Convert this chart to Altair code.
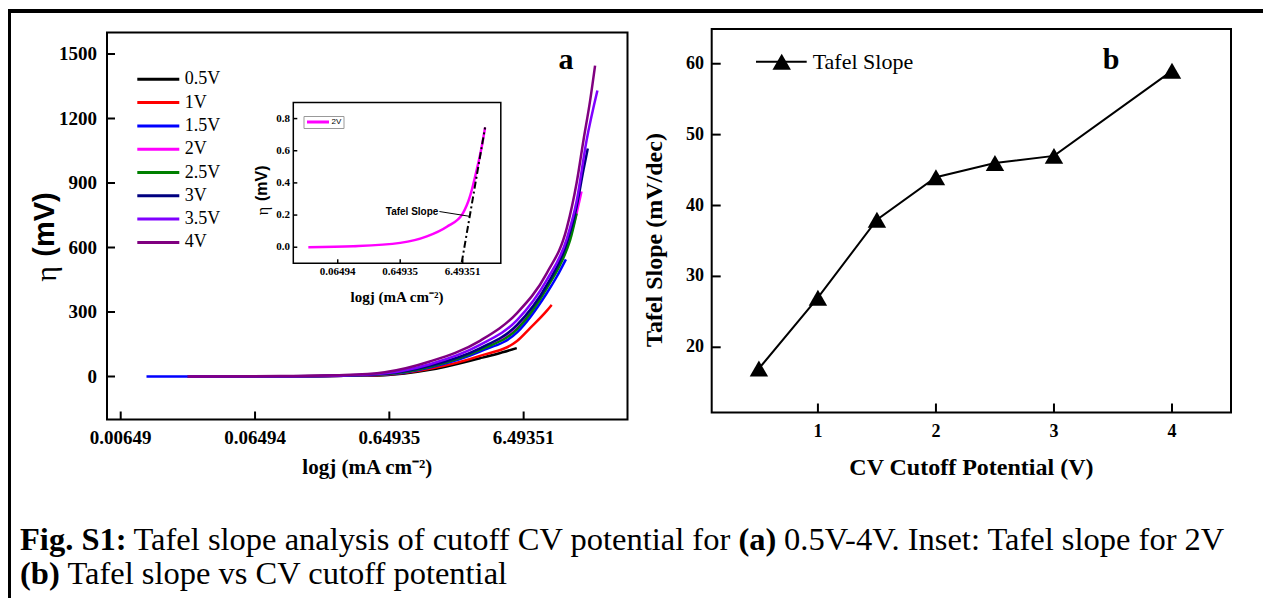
import altair as alt
import pandas as pd

SERIF = "Liberation Serif"
SANS = "Liberation Sans"
W, H = 1255, 590

# ---------------- panel (a): eta vs j for each CV cutoff ----------------
series = ["0.5V", "1V", "1.5V", "2V", "2.5V", "3V", "3.5V", "4V"]
colors = ["#000000", "#ff0000", "#0000ff", "#ff00ff", "#008000", "#000080", "#8000ff", "#800080"]

j_05 = [0.0205, 0.1, 0.3, 0.6, 1.3, 3.07, 4.1, 5.77]
eta_05 = [0, 1, 3, 6, 31, 85, 105, 132]
j_1 = [0.0205, 0.1, 0.3, 0.6, 1.3, 3.07, 5.8, 7.25, 9.64, 10.5]
eta_1 = [0, 1, 3.5, 8, 36, 96, 165, 225, 305, 333]
j_15 = [0.0101, 0.0205, 0.1, 0.3, 0.6, 1.3, 3.07, 5.8, 9.64, 11.45, 13.4]
eta_15 = [0, 0, 1, 4, 9, 42, 116, 205, 387, 464, 545]
j_2 = [0.0205, 0.1, 0.3, 0.6, 1.3, 3.07, 5.8, 9.64, 13.6, 16.1, 17.5]
eta_2 = [0, 1, 4, 11, 47, 128, 228, 418, 600, 760, 860]
j_25 = [0.0205, 0.1, 0.3, 0.6, 1.3, 3.07, 5.8, 9.64, 13.6, 14.4, 16.1]
eta_25 = [0, 1, 4, 10, 45, 124, 220, 410, 590, 634, 758]
j_3 = [0.0205, 0.1, 0.3, 0.6, 1.3, 3.07, 5.8, 9.64, 13.6, 16.1, 18.1, 19.5]
eta_3 = [0, 1.2, 4.5, 13, 50, 131, 240, 425, 620, 790, 960, 1060]
j_35 = [0.0205, 0.1, 0.3, 0.6, 1.3, 3.07, 5.8, 9.64, 13.6, 16.1, 19.1, 23.0]
eta_35 = [0, 1.5, 5, 15, 57, 147, 262, 448, 640, 815, 1098, 1330]
j_4 = [0.0205, 0.1, 0.3, 0.6, 1.3, 3.07, 5.77, 9.64, 13.6, 16.1, 18.1, 20.3, 22.1]
eta_4 = [0, 2, 7, 20, 70, 166, 294, 480, 690, 900, 1098, 1283, 1446]

a_xticks = [0.00649, 0.06494, 0.64935, 6.49351]
a_yticks = [0, 300, 600, 900, 1200, 1500]
a_xlim = [0.005131, 38.53]
a_ylim = [-200, 1600]

# ---------------- inset: 2V with Tafel tangent ----------------
inset_j = [0.022, 0.115, 0.649, 1.73, 3.62, 6.49, 8.5, 10.9, 13.1, 14.8]
inset_eta = [0, 0.006, 0.027, 0.067, 0.127, 0.209, 0.317, 0.483, 0.627, 0.745]
tangent_j = [6.26, 14.8]
tangent_eta = [-0.095, 0.745]
leader_j = [2.75, 8.4]
leader_eta = [0.222, 0.192]
inset_xticks = [0.06494, 0.64935, 6.49351]
inset_yticks = [0.0, 0.2, 0.4, 0.6, 0.8]
i_xlim = [0.01264, 26.4]
i_ylim = [-0.1, 0.9]

# ---------------- panel (b): Tafel slope vs cutoff ----------------
cutoff = [0.5, 1, 1.5, 2, 2.5, 3, 4]
tafel = [17, 27, 38, 44, 46, 47, 59]
b_xticks = [1, 2, 3, 4]
b_yticks = [20, 30, 40, 50, 60]
b_xlim = [0.1, 4.5]
b_ylim = [10.8, 64.9]

# ---------------- tables ----------------
rows = []
for name, js, es in zip(series,
                        [j_05, j_1, j_15, j_2, j_25, j_3, j_35, j_4],
                        [eta_05, eta_1, eta_15, eta_2, eta_25, eta_3, eta_35, eta_4]):
    for a, b in zip(js, es):
        rows.append({"series": name, "j": a, "eta": b})
df_a = pd.DataFrame(rows)
df_inset = pd.DataFrame({"j": inset_j, "eta": inset_eta, "s": ["2V"] * len(inset_j)})
df_tan = pd.DataFrame({"j": tangent_j, "eta": tangent_eta})
df_lead = pd.DataFrame({"j": leader_j, "eta": leader_eta})
df_b = pd.DataFrame({"v": cutoff, "slope": tafel})
one = pd.DataFrame({"k": [0]})

# ---------------- scales (pixel ranges place each panel on the page) ----------------
xa = alt.Scale(type="log", domain=a_xlim, range=[99, 619.5], nice=False)
ya = alt.Scale(domain=a_ylim, range=[411.5, 24.5], nice=False, zero=False)
xi = alt.Scale(type="log", domain=i_xlim, range=[285.3, 492.8], nice=False)
yi = alt.Scale(domain=i_ylim, range=[255.3, 94.5], nice=False, zero=False)
xb = alt.Scale(domain=b_xlim, range=[703.7, 1223], nice=False, zero=False)
yb = alt.Scale(domain=b_ylim, range=[404.5, 21], nice=False, zero=False)


def txt(s, x, y, size, weight="normal", font=SERIF, align="left", angle=0):
    return alt.Chart(one).mark_text(text=s, font=font, fontSize=size, fontWeight=weight,
                                    align=align, baseline="middle", angle=angle,
                                    color="black").encode(x=alt.value(x), y=alt.value(y))


def frame(xs, ys, xlim, ylim, width, fill=None):
    kw = dict(stroke="black", strokeWidth=width)
    if fill:
        kw["fill"] = fill
    else:
        kw["fillOpacity"] = 0
    return alt.Chart(pd.DataFrame({"x0": [xlim[0]], "x1": [xlim[1]],
                                   "y0": [ylim[0]], "y1": [ylim[1]]})).mark_rect(**kw).encode(
        x=alt.X("x0:Q", scale=xs, axis=None), x2="x1",
        y=alt.Y("y0:Q", scale=ys, axis=None), y2="y1")


def ticks(xs, ys, xt, yt, fmt_x, fmt_y, x_base, y_base, tlen, twidth,
          fsize, x_lab_y, y_lab_x):
    """Inward ticks + labels drawn through the panel scales."""
    dx = pd.DataFrame({"t": xt})
    dy = pd.DataFrame({"t": yt})
    return [
        alt.Chart(dx).mark_rule(color="black", strokeWidth=twidth).encode(
            x=alt.X("t:Q", scale=xs, axis=None),
            y=alt.value(y_base - tlen), y2=alt.value(y_base)),
        alt.Chart(dx).mark_text(font=SERIF, fontWeight="bold", fontSize=fsize,
                                baseline="middle", align="center", color="black").encode(
            x=alt.X("t:Q", scale=xs, axis=None), y=alt.value(x_lab_y),
            text=alt.Text("t:Q", format=fmt_x)),
        alt.Chart(dy).mark_rule(color="black", strokeWidth=twidth).encode(
            y=alt.Y("t:Q", scale=ys, axis=None),
            x=alt.value(x_base), x2=alt.value(x_base + tlen)),
        alt.Chart(dy).mark_text(font=SERIF, fontWeight="bold", fontSize=fsize,
                                baseline="middle", align="right", color="black").encode(
            y=alt.Y("t:Q", scale=ys, axis=None), x=alt.value(y_lab_x),
            text=alt.Text("t:Q", format=fmt_y)),
    ]


# ---------------- panel (a) ----------------
lines_a = alt.Chart(df_a).mark_line(strokeWidth=2.5, interpolate="monotone").encode(
    x=alt.X("j:Q", scale=xa, axis=None),
    y=alt.Y("eta:Q", scale=ya, axis=None),
    color=alt.Color("series:N", scale=alt.Scale(domain=series, range=colors),
                    legend=alt.Legend(orient="none", legendX=127.8, legendY=62.3,
                                      title="", titlePadding=0, padding=0,
                                      symbolType="stroke", symbolSize=1764,
                                      symbolStrokeWidth=3, clipHeight=18, rowPadding=5.3,
                                      labelFont=SERIF, labelFontSize=18, labelColor="black",
                                      labelOffset=4)),
    detail="series:N",
)
panel_a = alt.layer(
    lines_a,
    frame(xa, ya, a_xlim, a_ylim, 2),
    *ticks(xa, ya, a_xticks, a_yticks, ".5f", "d", 99, 411.5, 8, 2, 19, 430, 89),
)

# ---------------- inset ----------------
curve_i = alt.Chart(df_inset).mark_line(strokeWidth=2.5, interpolate="monotone").encode(
    x=alt.X("j:Q", scale=xi, axis=None),
    y=alt.Y("eta:Q", scale=yi, axis=None),
    color=alt.Color("s:N", scale=alt.Scale(domain=["2V"], range=["#ff00ff"]),
                    legend=alt.Legend(orient="none", legendX=295.5, legendY=108,
                                      title="", titlePadding=0, padding=2,
                                      strokeColor="#999999", fillColor="white",
                                      symbolType="stroke", symbolSize=484,
                                      symbolStrokeWidth=3, clipHeight=8,
                                      labelFont=SANS, labelFontSize=8,
                                      labelColor="black", labelOffset=1)),
)
tan_i = alt.Chart(df_tan).mark_line(color="black", strokeWidth=2,
                                    strokeDash=[7, 3, 2, 3]).encode(
    x=alt.X("j:Q", scale=xi, axis=None), y=alt.Y("eta:Q", scale=yi, axis=None))
lead_i = alt.Chart(df_lead).mark_line(color="black", strokeWidth=1).encode(
    x=alt.X("j:Q", scale=xi, axis=None), y=alt.Y("eta:Q", scale=yi, axis=None))
lead_txt = alt.Chart(df_lead.head(1)).mark_text(
    text="Tafel Slope", font=SANS, fontWeight="bold", fontSize=10, align="right",
    baseline="middle", dx=-1, color="black").encode(
    x=alt.X("j:Q", scale=xi, axis=None), y=alt.Y("eta:Q", scale=yi, axis=None))
inset = alt.layer(
    frame(xi, yi, i_xlim, i_ylim, 1.5, fill="white"),
    curve_i, tan_i, lead_i, lead_txt,
    *ticks(xi, yi, inset_xticks, inset_yticks, ".5f", ".1f", 285.3, 255.3, 4, 1.5,
           11, 263.7, 282),
)

# ---------------- panel (b) ----------------
line_b = alt.Chart(df_b).mark_line(color="black", strokeWidth=2).encode(
    x=alt.X("v:Q", scale=xb, axis=None),
    y=alt.Y("slope:Q", scale=yb, axis=None))
pts_b = alt.Chart(df_b).mark_point(shape="triangle-up", filled=True, size=340,
                                   color="black", opacity=1).encode(
    x=alt.X("v:Q", scale=xb, axis=None), y=alt.Y("slope:Q", scale=yb, axis=None))
panel_b = alt.layer(
    frame(xb, yb, b_xlim, b_ylim, 2), line_b, pts_b,
    *ticks(xb, yb, b_xticks, b_yticks, "d", "d", 703.7, 404.5, 9, 2, 18, 423.7, 696),
)

# ---------------- titles, labels, legend of (b), caption, border ----------------
CAP = 32.5
L1, L2 = 532, 566
deco = [
    txt("a", 558, 52, 30, "bold", align="center"),
    txt("b", 1103, 52, 30, "bold", align="center"),
    # axis titles
    txt("logj (mA cm⁻²)", 359.3, 460, 21, "bold", align="center"),
    txt("(mV)", 37, 216.5, 29, "bold", font=SANS, align="center", angle=270),
    txt("η", 39, 266, 30, align="center", angle=270),
    txt("logj (mA cm⁻²)", 389, 288.7, 15, "bold", align="center"),
    txt("(mV)", 254, 175.3, 16, "bold", font=SANS, align="center", angle=270),
    txt("η", 255, 203, 16, align="center", angle=270),
    txt("CV Cutoff Potential (V)", 963.4, 460, 24, "bold", align="center"),
    txt("Tafel Slope (mV/dec)", 647, 232, 24, "bold", align="center", angle=270),
    # legend of panel (b)
    alt.Chart(one).mark_rule(color="black", strokeWidth=2).encode(
        x=alt.value(748), x2=alt.value(798.7), y=alt.value(53.7)),
    alt.Chart(one).mark_point(shape="triangle-up", filled=True, size=340, color="black",
                              opacity=1).encode(x=alt.value(773.7), y=alt.value(53.7)),
    txt("Tafel Slope", 804.7, 53.7, 22),
    # caption
    txt("Fig. S1:", 12, L1, CAP, "bold"),
    txt("Tafel slope analysis of cutoff CV potential for", 125.5, L1, CAP),
    txt("(a)", 730.5, L1, CAP, "bold"),
    txt("0.5V-4V. Inset: Tafel slope for 2V", 776, L1, CAP),
    txt("(b)", 12, L2, CAP, "bold"),
    txt("Tafel slope vs CV cutoff potential", 59.4, L2, CAP),
    # outer border
    alt.Chart(one).mark_rule(color="black", strokeWidth=4).encode(
        x=alt.value(0), x2=alt.value(W), y=alt.value(3)),
    alt.Chart(one).mark_rule(color="black", strokeWidth=4).encode(
        x=alt.value(1), y=alt.value(1), y2=alt.value(H)),
]

chart = alt.layer(panel_a, inset, panel_b, *deco).resolve_scale(
    x="independent", y="independent", color="independent"
).resolve_legend(
    color="independent"
).properties(
    width=W, height=H, autosize=alt.AutoSizeParams(type="none"), padding=0,
    background="white"
).configure_view(stroke="transparent")

chart.save("out.html", embed_options={"renderer": "svg", "actions": False})
